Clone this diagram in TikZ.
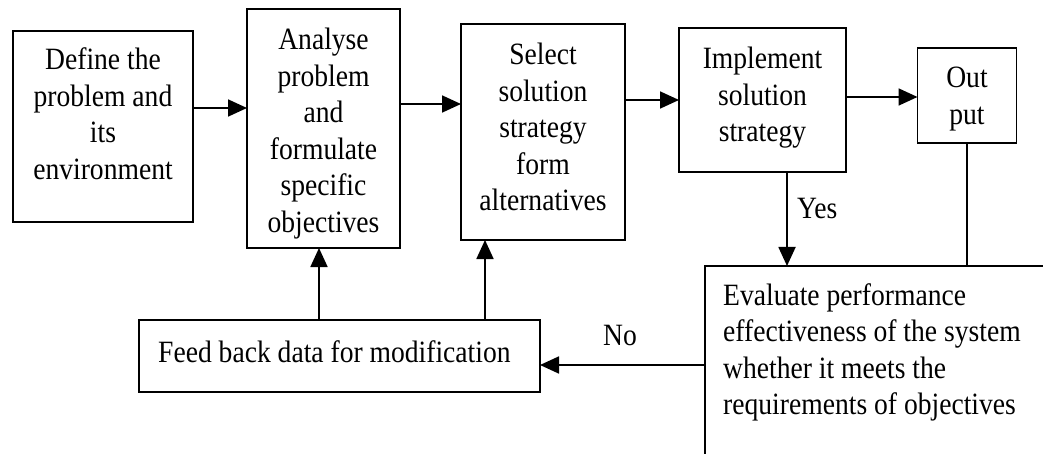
\documentclass[tikz,border=0pt]{standalone}
\usepackage{fontspec}
\setmainfont{Liberation Serif}[FakeStretch=0.89]
\usetikzlibrary{arrows.meta}

\tikzset{
  box/.style={draw, line width=1.8pt, inner sep=0pt, outer sep=0pt},
  % multi-line texts are placed by the baseline of their last line
  txt/.style={inner sep=0pt, anchor=base, align=center,
              font=\fontsize{31}{36.5}\selectfont},
  ltxt/.style={txt, align=left, anchor=base west},
  link/.style={line width=1.8pt},
  arr/.style={link, -{Triangle[length=19pt,width=17pt]}}
}

\begin{document}
\begin{tikzpicture}[x=1pt, y=-1pt]
  \useasboundingbox (0,0) rectangle (1043,454);
  \clip (0,0) rectangle (1043,454);

  % process boxes
  \node[box, minimum width=180pt, minimum height=191pt] (define)    at (103,126.5) {};
  \node[box, minimum width=153pt, minimum height=239pt] (analyse)   at (323.5,128.5) {};
  \node[box, minimum width=164pt, minimum height=216pt] (select)    at (543,132) {};
  \node[box, minimum width=167pt, minimum height=144pt] (implement) at (762.5,100) {};
  \node[box, minimum width=99pt,  minimum height=95pt]  (output)    at (967,95.5) {};
  \node[box, minimum width=401pt, minimum height=72pt]  (feedback)  at (339.5,356) {};
  \node[box, minimum width=365pt, minimum height=214pt] (evaluate)  at (887.5,373) {};

  % box texts
  \node[txt] (defineText)    at (103,179.5)  {Define the\\problem and\\its\\environment};
  \node[txt] (analyseText)   at (323.5,232.5) {Analyse\\problem\\and\\formulate\\specific\\objectives};
  \node[txt] (selectText)    at (543,211)    {Select\\solution\\strategy\\form\\alternatives};
  \node[txt] (implementText) at (762.5,142)  {Implement\\solution\\strategy};
  \node[txt] (outputText)    at (967,124.5)  {Out\\put};
  \node[ltxt] (feedbackText) at (158,362)    {Feed back data for modification};
  \node[ltxt] (evaluateText) at (723,414.5)  {Evaluate performance\\effectiveness of the system\\whether it meets the\\requirements of objectives};

  % forward flow
  \draw[arr] (define.east |- 0,108)   -- (analyse.west |- 0,108);
  \draw[arr] (analyse.east |- 0,104)  -- (select.west |- 0,104);
  \draw[arr] (select.east |- 0,100)   -- (implement.west |- 0,100);
  \draw[arr] (implement.east |- 0,97) -- (output.west |- 0,97);

  % evaluation
  \draw[arr] (787,0 |- implement.south) -- (787,0 |- evaluate.north);
  \node[ltxt] (yesLabel) at (797,219) {Yes};
  \draw[link] (output.south) -- (output.south |- evaluate.north);

  % feedback loop
  \draw[arr] (evaluate.west |- 0,365) -- (feedback.east |- 0,365);
  \node[txt] (noLabel) at (620,345) {No};
  \draw[arr] (319,0 |- feedback.north) -- (319,0 |- analyse.south);
  \draw[arr] (485,0 |- feedback.north) -- (485,0 |- select.south);
\end{tikzpicture}
\end{document}
